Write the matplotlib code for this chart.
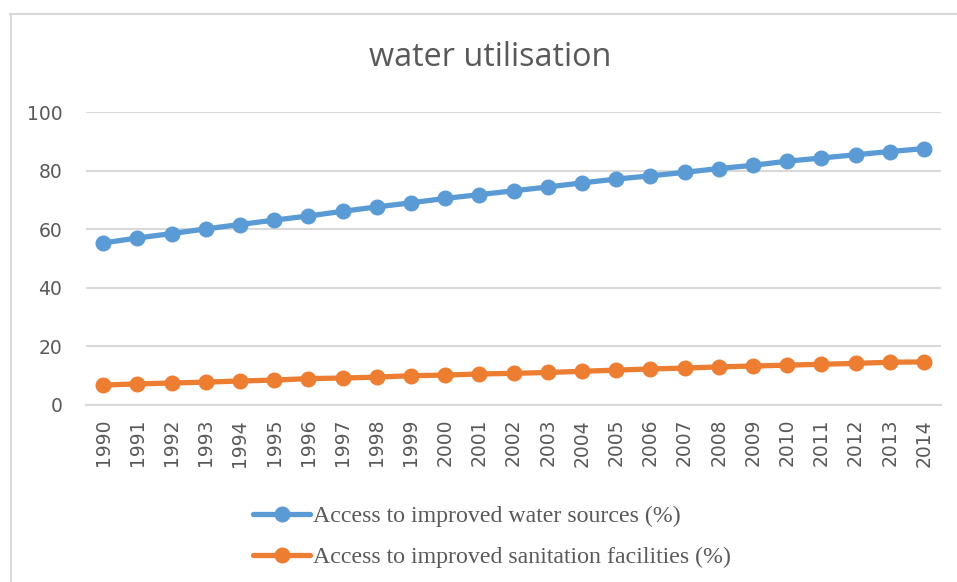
import matplotlib
matplotlib.use("Agg")
import matplotlib.pyplot as plt
from matplotlib.lines import Line2D

years = [str(y) for y in range(1990, 2015)]
water = [55.3, 57.0, 58.5, 60.1, 61.6, 63.1, 64.5, 66.1, 67.6, 69.0, 70.5, 71.8,
         73.1, 74.4, 75.8, 77.1, 78.2, 79.4, 80.7, 81.8, 83.2, 84.3, 85.4, 86.5, 87.5]
sanitation = [6.8, 7.2, 7.5, 7.8, 8.2, 8.5, 9.0, 9.2, 9.5, 10.0, 10.2, 10.6,
              10.8, 11.1, 11.5, 11.9, 12.3, 12.6, 13.0, 13.3, 13.6, 13.9, 14.2, 14.6, 14.7]
yticks = [0, 20, 40, 60, 80, 100]
title = "water utilisation"
labels = ["Access to improved water sources (%)",
          "Access to improved sanitation facilities (%)"]

W, H = 957, 582
fig = plt.figure(figsize=(W / 100, H / 100), dpi=100)
ax = fig.add_axes([86 / W, 1 - 405 / H, (941 - 86) / W, (405 - 112) / H])

grid_c = "#d9d9d9"
text_c = "#595959"
x = list(range(len(years)))
l1, = ax.plot(x, water, color="#5b9bd5", lw=3.8, marker="o", ms=10.5, label=labels[0],
              solid_capstyle="round", zorder=3)
l2, = ax.plot(x, sanitation, color="#ed7d31", lw=3.8, marker="o", ms=10.5, label=labels[1],
              solid_capstyle="round", zorder=3)

ax.set_xlim(-0.5, len(years) - 0.5)
ax.set_ylim(0, 100)
ax.set_yticks(yticks)
ax.set_xticks(x)
ax.set_xticklabels(years, rotation=90)
ax.yaxis.grid(True, color=grid_c, lw=1.5)
ax.set_axisbelow(True)
for s in ["top", "right", "left"]:
    ax.spines[s].set_visible(False)
ax.spines["bottom"].set_color(grid_c)
ax.spines["bottom"].set_linewidth(1.5)
ax.tick_params(axis="both", length=0, colors=text_c, labelsize=13.5)
ax.tick_params(axis="y", pad=17)
ax.tick_params(axis="x", pad=10)
for t in ax.get_xticklabels() + ax.get_yticklabels():
    t.set_fontfamily("DejaVu Sans")
    t.set_color(text_c)

fig.text(490 / W, 1 - 57 / H, title, ha="center", va="center", fontsize=23.3,
         color=text_c, family="Open Sans")

leg = fig.legend(handles=[l1, l2], loc="upper left",
                 bbox_to_anchor=(253 / W, 1 - 505.5 / H), frameon=False,
                 prop={"family": "Liberation Serif", "size": 17.2},
                 handlelength=2.4, handletextpad=0.12, labelspacing=0.8,
                 borderaxespad=0, borderpad=0)
for t in leg.get_texts():
    t.set_color(text_c)

# chart border (left and top visible)
fig.add_artist(Line2D([10.5 / W, 10.5 / W], [0, 1 - 14 / H], transform=fig.transFigure,
                      color=grid_c, lw=1.5))
fig.add_artist(Line2D([10 / W, 1], [1 - 14 / H, 1 - 14 / H], transform=fig.transFigure,
                      color=grid_c, lw=1.5))

fig.savefig("out.png", dpi=100)
